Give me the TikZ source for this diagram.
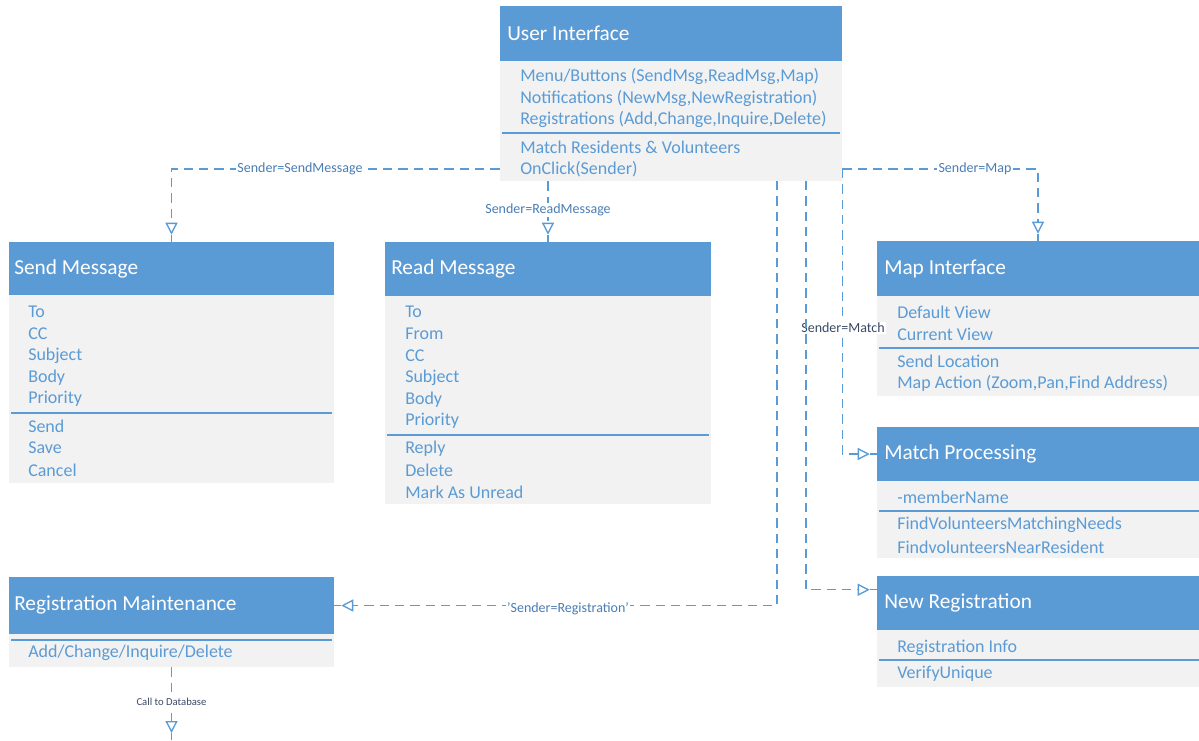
\documentclass[tikz,border=0pt]{standalone}
\usepackage{fontspec}
\setmainfont{Carlito}
\usetikzlibrary{arrows.meta,fit,calc}
\definecolor{hdrblue}{HTML}{5B9BD5}
\definecolor{bodygray}{HTML}{F2F2F2}
\definecolor{txtblue}{HTML}{5B9BD5}
\definecolor{lblblue}{HTML}{4A7DB5}
\definecolor{lbldark}{HTML}{3A4A66}
\tikzset{
  hdr/.style={fill=hdrblue, draw=none, inner sep=0pt},
  bodyb/.style={fill=bodygray, draw=none, inner sep=0pt},
  ttl/.style={anchor=west, inner sep=0pt, text=white, font=\fontsize{16}{18}\selectfont},
  itm/.style={anchor=west, inner sep=0pt, text=txtblue, font=\fontsize{13.5}{15}\selectfont},
  divline/.style={draw=hdrblue, line width=1.2pt},
  conn/.style={draw=hdrblue, line width=1pt, dash pattern=on 7pt off 4.5pt,
    shorten >=5.25pt, -{Triangle[open, length=9pt, width=9pt, line width=1pt, sep=0pt]}},
  stem/.style={draw=hdrblue, line width=1pt},
  lbl/.style={fill=white, inner sep=1pt, text=lblblue, font=\fontsize{10.5}{12}\selectfont},
  lbldk/.style={fill=white, inner sep=1pt, text=lbldark, font=\fontsize{10.5}{12}\selectfont},
  lblsm/.style={fill=white, inner sep=1pt, text=lbldark, font=\fontsize{8}{10}\selectfont},
}
\begin{document}
\begin{tikzpicture}[x=0.75pt, y=-0.75pt]
\useasboundingbox (0,0) rectangle (1199,740);

% ---------- User Interface ----------
\node[hdr, fit={(500,6) (842,61)}] (ui) {};
\node[bodyb, fit={(500,61) (842,181)}] (uib) {};
\node[ttl] (uit) at (507,33) {User Interface};
\node[itm] (ui1) at (520,76) {Menu/Buttons (SendMsg,ReadMsg,Map)};
\node[itm] (ui2) at (520,98) {Notifications (NewMsg,NewRegistration)};
\node[itm] (ui3) at (520,119) {Registrations (Add,Change,Inquire,Delete)};
\draw[divline] (502,133) -- (840,133);
\node[itm] (ui4) at (520,147) {Match Residents \& Volunteers};
\node[itm] (ui5) at (520,169) {OnClick(Sender)};

% ---------- Send Message ----------
\node[hdr, fit={(9,242) (334,295)}] (sm) {};
\node[bodyb, fit={(9,295) (334,483)}] (smb) {};
\node[ttl] (smt) at (14,269) {Send Message};
\node[itm] (sm1) at (28,312) {To};
\node[itm] (sm2) at (28,334) {CC};
\node[itm] (sm3) at (28,356) {Subject};
\node[itm] (sm4) at (28,378) {Body};
\node[itm] (sm5) at (28,399) {Priority};
\draw[divline] (11,413) -- (332,413);
\node[itm] (sm6) at (28,426) {Send};
\node[itm] (sm7) at (28,448) {Save};
\node[itm] (sm8) at (28,470) {Cancel};

% ---------- Read Message ----------
\node[hdr, fit={(385,242) (711,296)}] (rm) {};
\node[bodyb, fit={(385,296) (711,504)}] (rmb) {};
\node[ttl] (rmt) at (391,269) {Read Message};
\node[itm] (rm1) at (405,312) {To};
\node[itm] (rm2) at (405,334) {From};
\node[itm] (rm3) at (405,356) {CC};
\node[itm] (rm4) at (405,378) {Subject};
\node[itm] (rm5) at (405,400) {Body};
\node[itm] (rm6) at (405,421) {Priority};
\draw[divline] (387,435) -- (709,435);
\node[itm] (rm7) at (405,449) {Reply};
\node[itm] (rm8) at (405,470) {Delete};
\node[itm] (rm9) at (405,492) {Mark As Unread};

% ---------- Map Interface ----------
\node[hdr, fit={(877,241) (1199,296)}] (mi) {};
\node[bodyb, fit={(877,296) (1199,396)}] (mib) {};
\node[ttl] (mit) at (884,269) {Map Interface};
\node[itm] (mi1) at (897,312) {Default View};
\node[itm] (mi2) at (897,334) {Current View};
\draw[divline] (879,348) -- (1199,348);
\node[itm] (mi3) at (897,361) {Send Location};
\node[itm] (mi4) at (897,383) {Map Action (Zoom,Pan,Find Address)};

% ---------- Match Processing ----------
\node[hdr, fit={(877,427) (1199,481)}] (mp) {};
\node[bodyb, fit={(877,481) (1199,558)}] (mpb) {};
\node[ttl] (mpt) at (884,454) {Match Processing};
\node[itm] (mp1) at (897,497) {-memberName};
\draw[divline] (879,511) -- (1199,511);
\node[itm] (mp2) at (897,525) {FindVolunteersMatchingNeeds};
\node[itm] (mp3) at (897,547) {FindvolunteersNearResident};

% ---------- New Registration ----------
\node[hdr, fit={(877,576) (1199,630)}] (nr) {};
\node[bodyb, fit={(877,630) (1199,687)}] (nrb) {};
\node[ttl] (nrt) at (884,603) {New Registration};
\node[itm] (nr1) at (897,648) {Registration Info};
\draw[divline] (879,660) -- (1199,660);
\node[itm] (nr2) at (897,674) {VerifyUnique};

% ---------- Registration Maintenance ----------
\node[hdr, fit={(9,577) (334,634)}] (rg) {};
\node[bodyb, fit={(9,634) (334,667)}] (rgb) {};
\node[ttl] (rgt) at (14,605) {Registration Maintenance};
\draw[divline] (11,640) -- (332,640);
\node[itm] (rg1) at (28,653) {Add/Change/Inquire/Delete};

% ---------- connector end points ----------
\coordinate (cNR) at (806,181);
\coordinate (cRG) at (777,181);
\coordinate (nrIn) at ($(nr.north west)+(0,14)$);
\coordinate (dbEnd) at (171.5,740);

% ---------- connectors ----------
\draw[conn] (uib.west |- ui5) -| (sm.north);
\draw[stem] (sm.north) -- ++(0,-7);
\node[lbl] at (300,169) {Sender=SendMessage};

\draw[conn] (rm.north |- uib.south) -- (rm.north);
\draw[stem] (rm.north) -- ++(0,-7);
\node[lbl] at (548,210) {Sender=ReadMessage};

\draw[conn] (uib.east |- ui5) -| (mi.north);
\draw[stem] (mi.north) -- ++(0,-7);
\node[lbl] at (975,169) {Sender=Map};

\draw[conn] (uib.east |- ui5) |- (mp.west);
\draw[stem] (mp.west) -- ++(-7,0);
\node[lbldk] at (843,328) {Sender=Match};

\draw[conn] (cNR) |- (nrIn);
\draw[stem] (nrIn) -- ++(-7,0);

\draw[conn] (cRG) |- (rg.east);
\draw[stem] (rg.east) -- ++(7,0);
\node[lbl] at (568,609) {'Sender=Registration'};

\draw[conn] (rgb.south) -- (dbEnd);
\draw[stem] (dbEnd) -- ++(0,-7);
\node[lblsm] at (171.5,702) {Call to Database};
\end{tikzpicture}
\end{document}
